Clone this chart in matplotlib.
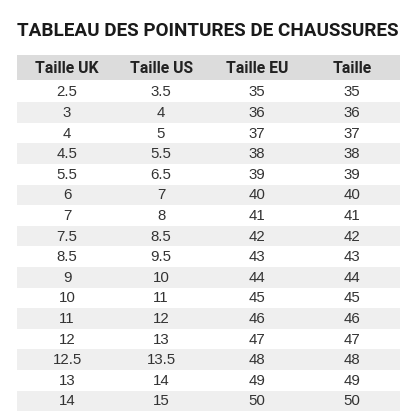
import matplotlib.pyplot as plt
from matplotlib.patches import Rectangle

title = "TABLEAU DES POINTURES DE CHAUSSURES"
columns = ["Taille UK", "Taille US", "Taille EU", "Taille"]
uk = ["2.5", "3", "4", "4.5", "5.5", "6", "7", "7.5", "8.5", "9", "10", "11", "12", "12.5", "13", "14"]
us = ["3.5", "4", "5", "5.5", "6.5", "7", "8", "8.5", "9.5", "10", "11", "12", "13", "13.5", "14", "15"]
eu = ["35", "36", "37", "38", "39", "40", "41", "42", "43", "44", "45", "46", "47", "48", "49", "50"]
taille = list(eu)

fig = plt.figure(figsize=(4.16, 4.16), dpi=100)
ax = fig.add_axes([0, 0, 1, 1])
ax.set_xlim(0, 416)
ax.set_ylim(416, 0)
ax.axis("off")

ax.text(208, 31, title, ha="center", va="center", fontsize=13.6,
        fontweight="bold", family="Roboto", color="#1a1a1a")

x0, x1 = 17, 400
col_x = [67, 161, 257, 352]
head_top, head_h = 55, 25
ax.add_patch(Rectangle((x0, head_top), x1 - x0, head_h, color="#dcdcdc", lw=0))
for cx, name in zip(col_x, columns):
    ax.text(cx, head_top + head_h / 2 + 1, name, ha="center", va="center",
            fontsize=11.3, fontweight="bold", family="Roboto", color="#222222")

row_top, row_h = 81.5, 20.6
cols = [uk, us, eu, taille]
for i in range(len(uk)):
    y = row_top + i * row_h
    if i % 2 == 1:
        ax.add_patch(Rectangle((x0, y), x1 - x0, row_h, color="#efefef", lw=0))
    for cx, col in zip(col_x, cols):
        ax.text(cx, y + row_h / 2 + 0.5, col[i], ha="center", va="center",
                fontsize=10.8, family="Liberation Sans", color="#333333")

fig.savefig("out.png", dpi=100, facecolor="white")
